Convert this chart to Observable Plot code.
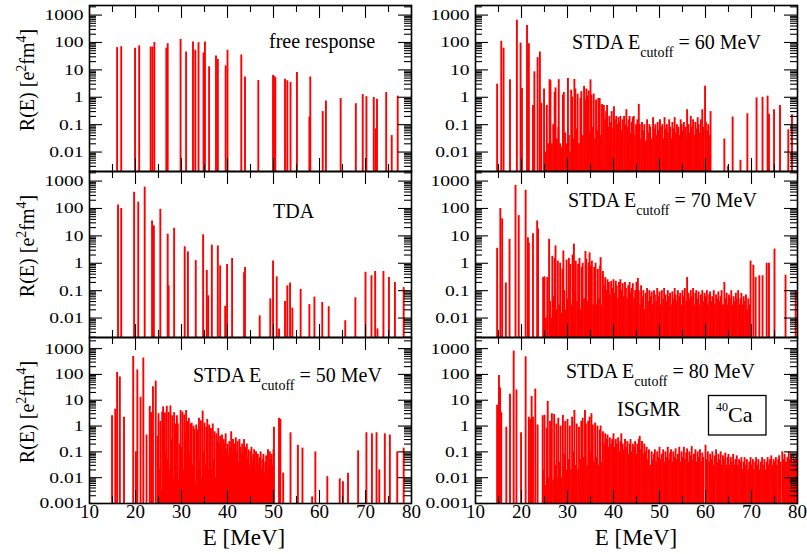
<!DOCTYPE html>
<html>
<head>
<meta charset="utf-8">
<script src="https://cdn.jsdelivr.net/npm/d3@7"></script>
<script src="https://cdn.jsdelivr.net/npm/@observablehq/plot@0.6"></script>
<style>
  body { margin: 0; background: #fff; }
  #chart { position: relative; width: 807px; height: 554px; overflow: hidden; font-family: "Liberation Serif", "Times New Roman", serif; }
  #chart svg { position: absolute; overflow: visible; }
</style>
</head>
<body>
<div id="chart"></div>
<script>
// ---------- tick values ----------
const yTickVals = [0.001, 0.01, 0.1, 1, 10, 100, 1000];
const xTickVals = [10, 20, 30, 40, 50, 60, 70, 80];
const xMinorVals = [15, 25, 35, 45, 55, 65, 75];

// ---------- data: [E (MeV), R(E) (e^2 fm^4)] ----------
const freeResponse = [[16.0,65],[16.9,70],[19.9,62],[20.8,75],[23.3,68],[23.7,68],[24.1,100],[26.7,62],[27.0,90],[29.8,130],[31.0,45],[32.5,105],[33.0,52],[33.7,98],[34.8,42],[35.1,105],[36.0,13],[37.5,32],[37.9,24],[39.6,14],[40.0,52],[43.0,35],[43.8,5.5],[46.7,4.1],[49.9,6.2],[50.1,5.8],[50.4,5.2],[52.5,4.5],[53.0,4.0],[53.7,3.5],[55.1,8.0],[57.8,0.19],[58.0,5.5],[60.7,0.3],[61.4,0.73],[64.6,0.9],[67.9,0.58],[69.4,1.25],[70.2,1.05],[71.8,0.98],[72.2,0.07],[72.5,0.85],[74.5,1.5],[75.7,0.04],[77.0,1.1]];

const tda = [[16.2,135],[16.9,100],[19.7,390],[20.6,170],[22.0,600],[23.6,35],[24.0,23],[25.4,93],[27.0,11.5],[27.2,0.15],[28.4,19],[30.7,4.0],[31.4,2.6],[33.1,1.25],[34.7,11],[35.5,0.55],[35.8,0.065],[36.6,4.6],[37.9,4.3],[38.4,0.8],[39.5,0.027],[39.9,0.9],[41.0,1.5],[43.6,0.45],[43.8,0.7],[47.0,0.012],[49.3,0.05],[49.9,1.2],[50.7,0.32],[51.2,0.004],[52.5,0.04],[53.0,0.15],[53.6,0.19],[54.1,0.023],[55.9,0.11],[57.8,0.031],[58.9,0.058],[60.6,0.037],[62.0,0.026],[65.6,0.008],[67.8,0.055],[70.0,0.47],[71.3,0.35],[72.1,0.5],[72.6,0.004],[73.9,0.5],[75.1,0.3],[76.4,0.2],[78.3,0.13]];

const stda50Low = [[14.9,2.5],[15.6,4.5],[16.0,120],[16.6,80],[17.5,2.2],[19.5,500],[20.1,0.1],[20.4,150],[21.1,13],[21.7,430],[22.4,0.45],[23.1,5.8],[23.4,3.3],[23.8,33],[24.4,55]];
const stda50Dense = [[24.8,0.4],[25.0,3.0],[25.2,0.02],[25.4,1.5],[25.6,0.003],[25.8,3.5],[26.0,5.5],[26.2,0.03],[26.4,3.2],[26.6,0.1],[26.8,5.8],[27.0,0.05],[27.2,3.4],[27.4,0.02],[27.6,6.0],[27.8,0.3],[28.0,2.5],[28.2,0.01],[28.4,3.3],[28.6,1.2],[28.8,0.04],[29.0,2.5],[29.2,1.2],[29.4,0.008],[29.6,0.2],[29.8,4.0],[30.0,0.15],[30.2,3.5],[30.4,0.02],[30.6,2.7],[30.8,0.5],[31.0,4.0],[31.2,0.01],[31.4,1.5],[31.6,2.0],[31.8,0.08],[32.0,1.2],[32.2,1.3],[32.4,0.03],[32.6,1.0],[32.8,0.75],[33.0,0.006],[33.2,1.1],[33.4,0.7],[33.6,0.02],[33.8,2.0],[34.0,0.05],[34.2,1.6],[34.4,0.01],[34.6,3.8],[34.8,0.1],[35.0,1.3],[35.2,0.03],[35.4,0.9],[35.6,1.8],[35.8,0.02],[36.0,1.1],[36.2,0.06],[36.4,0.8],[36.6,0.02],[36.8,1.2],[37.0,0.05],[37.2,0.6],[37.4,0.01],[37.6,0.5],[37.8,0.25],[38.0,0.8],[38.2,0.2],[38.4,0.4],[38.6,0.15],[38.8,0.45],[39.0,0.06],[39.2,0.3],[39.4,0.2],[39.6,0.5],[39.8,0.12],[40.0,0.2],[40.2,0.08],[40.4,0.25],[40.6,0.15],[40.8,0.6],[41.0,0.1],[41.2,0.3],[41.4,0.05],[41.6,0.2],[41.8,0.35],[42.0,0.1],[42.2,0.25],[42.4,0.04],[42.6,0.3],[42.8,0.15],[43.0,0.08],[43.2,0.2],[43.4,0.1],[43.6,0.3],[43.8,0.05],[44.0,0.15],[44.2,0.2],[44.4,0.06],[44.6,0.12],[44.8,0.03],[45.0,0.1],[45.2,0.15],[45.4,0.04],[45.6,0.08],[45.8,0.12],[46.0,0.02],[46.2,0.1],[46.4,0.05],[46.6,0.08],[46.8,0.03],[47.0,0.06],[47.2,0.1],[47.4,0.02],[47.6,0.05],[47.8,0.08],[48.0,0.015],[48.2,0.04],[48.4,0.07],[48.6,0.02],[48.8,0.12],[49.0,0.03],[49.2,0.1],[49.4,0.05],[49.6,0.08],[49.8,0.03],[50.0,0.12]];
const stda50High = [[50.1,0.9],[51.2,2.0],[51.5,1.8],[52.1,0.015],[53.7,0.55],[55.3,0.18],[56.3,0.14],[58.4,0.0018],[59.1,0.1],[61.7,0.011],[64.4,0.009],[65.1,0.007],[66.2,0.015],[68.4,0.11],[70.2,0.55],[71.4,0.5],[72.4,0.55],[73.0,0.02],[74.2,0.5],[75.3,0.45],[76.9,0.1],[78.3,0.14]];

const stda60Low = [[14.7,3.0],[15.6,110],[16.1,62],[17.5,4.4],[19.0,650],[19.8,95],[20.1,2.1],[21.2,420],[21.6,90],[22.5,0.5],[22.8,8.5],[23.5,28],[24.0,45],[24.3,0.6]];
const stda60Dense = [[24.9,2.0],[25.2,0.01],[25.5,0.5],[25.8,0.02],[26.1,4.4],[26.3,4.0],[26.6,0.02],[26.9,0.1],[27.2,1.5],[27.4,2.2],[27.7,0.03],[28.0,0.08],[28.1,4.4],[28.4,0.02],[28.7,0.015],[29.0,1.2],[29.2,1.5],[29.5,0.05],[29.8,0.02],[30.1,4.8],[30.3,0.04],[30.6,0.01],[30.8,1.8],[31.0,1.0],[31.3,0.03],[31.5,4.5],[31.7,2.0],[32.0,0.07],[32.2,1.3],[32.5,0.02],[32.8,0.9],[33.0,1.6],[33.3,0.04],[33.6,2.5],[33.8,0.8],[34.1,2.0],[34.3,1.1],[34.6,1.7],[34.8,0.05],[35.0,4.3],[35.2,1.2],[35.5,0.08],[35.7,1.3],[36.0,0.03],[36.2,0.8],[36.5,0.06],[36.7,0.9],[37.0,0.9],[37.2,0.04],[37.5,0.55],[37.7,0.03],[37.9,0.5],[38.2,0.15],[38.4,0.3],[38.6,0.5],[38.9,0.08],[39.1,0.2],[39.4,0.12],[39.6,0.3],[39.9,0.07],[40.1,0.45],[40.3,0.15],[40.6,0.2],[40.8,0.1],[41.1,0.18],[41.3,0.12],[41.5,0.2],[41.8,0.06],[42.0,0.15],[42.3,0.2],[42.5,0.1],[42.8,0.35],[43.0,0.08],[43.3,0.15],[43.5,0.2],[43.8,0.05],[44.0,0.12],[44.2,0.18],[44.4,0.2],[44.7,0.04],[44.9,0.1],[45.2,0.15],[45.5,0.55],[45.7,0.1],[46.0,0.03],[46.2,0.12],[46.5,0.06],[46.7,0.1],[47.0,0.025],[47.3,0.15],[47.5,0.05],[47.8,0.1],[48.0,0.08],[48.3,0.03],[48.6,0.18],[48.8,0.07],[49.1,0.1],[49.3,0.04],[49.6,0.12],[49.8,0.06],[50.1,0.15],[50.3,0.08],[50.6,0.1],[50.8,0.03],[51.1,0.18],[51.3,0.07],[51.6,0.1],[51.8,0.05],[52.1,0.15],[52.3,0.08],[52.6,0.03],[52.8,0.12],[53.1,0.07],[53.3,0.18],[53.6,0.05],[53.8,0.1],[54.1,0.08],[54.3,0.04],[54.6,0.15],[54.8,0.1],[55.1,0.06],[55.3,0.12],[55.6,0.08],[55.8,0.03],[56.0,0.35],[56.3,0.1],[56.5,0.05],[56.8,0.2],[57.0,0.08],[57.3,0.15],[57.5,0.04],[57.8,0.12],[58.0,0.07],[58.3,0.18],[58.5,0.1],[58.8,0.05],[59.0,0.15],[59.3,0.35],[59.5,0.08],[59.9,2.5],[60.1,0.12],[60.4,0.06],[60.6,0.1],[60.9,0.04],[61.1,0.3]];
const stda60High = [[64.1,0.03],[64.9,0.003],[65.9,0.19],[67.6,0.005],[69.1,0.25],[71.1,0.95],[72.4,1.0],[73.5,1.1],[73.8,0.24],[74.9,0.35],[76.2,0.5],[78.0,0.065],[78.8,0.23]];

const stda70Low = [[14.7,3.5],[15.4,100],[15.8,42],[16.6,0.19],[17.4,7.5],[18.7,700],[19.4,55],[20.9,460],[21.4,8.5],[21.6,5.5],[22.5,12],[23.4,35],[23.6,18],[24.7,0.3]];
const stda70Dense = [[25.0,0.32],[25.3,0.01],[25.6,0.3],[26.0,7.5],[26.2,0.04],[26.5,0.01],[26.7,1.8],[27.0,0.06],[27.2,1.5],[27.4,4.3],[27.7,0.02],[27.9,1.2],[28.2,0.03],[28.4,1.0],[28.6,0.015],[28.9,0.6],[29.1,2.8],[29.3,0.1],[29.6,0.02],[29.8,1.3],[30.1,0.05],[30.3,1.5],[30.6,0.9],[30.8,0.03],[31.1,2.0],[31.4,5.0],[31.6,0.1],[31.8,1.2],[32.1,0.04],[32.3,0.9],[32.6,1.5],[32.8,0.02],[33.1,0.7],[33.3,1.0],[33.6,0.05],[33.9,2.7],[34.1,1.4],[34.3,0.04],[34.6,1.0],[34.8,2.4],[35.1,0.8],[35.3,1.2],[35.6,0.03],[35.8,0.7],[36.1,1.0],[36.3,0.03],[36.6,0.6],[36.8,0.05],[37.1,0.8],[37.2,1.6],[37.5,0.03],[37.7,0.5],[38.0,0.15],[38.2,0.3],[38.5,0.1],[38.7,0.25],[39.0,0.2],[39.2,0.07],[39.5,0.22],[39.7,0.12],[40.0,0.25],[40.2,0.08],[40.5,0.22],[40.7,0.15],[41.0,0.05],[41.2,0.2],[41.5,0.25],[41.7,0.1],[42.0,0.18],[42.2,0.06],[42.5,0.2],[42.7,0.12],[43.0,0.05],[43.2,0.15],[43.5,0.2],[43.7,0.08],[44.0,0.12],[44.2,0.18],[44.5,0.05],[44.7,0.1],[45.0,0.2],[45.3,0.28],[45.5,0.1],[45.8,0.03],[46.0,0.15],[46.3,0.06],[46.5,0.1],[46.8,0.02],[47.0,0.08],[47.3,0.12],[47.5,0.04],[47.8,0.1],[48.0,0.06],[48.3,0.09],[48.5,0.03],[48.8,0.1],[49.0,0.07],[49.3,0.04],[49.5,0.12],[49.8,0.06],[50.0,0.09],[50.3,0.03],[50.5,0.1],[50.8,0.05],[51.0,0.12],[51.3,0.07],[51.5,0.04],[51.8,0.1],[52.0,0.06],[52.3,0.08],[52.5,0.03],[52.8,0.09],[53.0,0.05],[53.3,0.12],[53.5,0.07],[53.8,0.04],[54.0,0.1],[54.3,0.06],[54.5,0.08],[54.8,0.03],[55.0,0.1],[55.3,0.06],[55.5,0.12],[55.8,0.04],[56.0,0.3],[56.3,0.08],[56.5,0.05],[56.8,0.1],[57.0,0.06],[57.3,0.12],[57.5,0.03],[57.8,0.08],[58.0,0.1],[58.3,0.05],[58.5,0.09],[58.8,0.03],[59.0,0.07],[59.3,0.1],[59.5,0.04],[59.8,0.08],[60.0,0.06],[60.3,0.1],[60.5,0.03],[60.8,0.07],[61.0,0.09],[61.3,0.04],[61.5,0.06],[61.8,0.1],[62.0,0.03],[62.3,0.07],[62.5,0.05],[62.8,0.09],[63.0,0.04],[63.3,0.06],[63.5,0.1],[63.8,0.03],[64.1,0.2],[64.3,0.05],[64.6,0.08],[64.8,0.03],[65.1,0.07],[65.3,0.05],[65.6,0.1],[65.8,0.03],[66.1,0.06],[66.3,0.04],[66.6,0.08],[66.8,0.05],[67.1,0.1],[67.3,0.03],[67.6,0.05],[67.8,0.08],[68.1,0.03],[68.3,0.06],[68.6,0.04],[68.8,0.07],[69.1,0.02],[69.3,0.05],[69.5,0.03]];
const stda70High = [[69.8,1.2],[70.4,0.85],[70.9,0.3],[71.7,0.35],[72.4,0.35],[73.3,1.0],[73.8,1.0],[75.0,3.3],[77.4,0.37],[79.6,0.09]];

const stda80Low = [[14.7,6.4],[15.1,90],[15.35,30],[15.6,3.3],[16.7,0.9],[17.5,17],[18.3,800],[18.9,25],[19.9,0.55],[20.9,480],[21.6,2.2],[21.9,1.8],[22.2,14],[22.5,2.2],[23.0,27],[23.5,1.1]];
const stda80Dense = [[24.6,2.5],[24.9,0.02],[25.0,2.6],[25.3,0.005],[25.5,0.8],[25.7,9.0],[25.9,0.01],[26.2,1.5],[26.4,0.05],[26.6,3.0],[26.9,0.008],[27.1,2.8],[27.3,0.03],[27.6,1.2],[27.8,0.01],[28.0,2.0],[28.3,0.04],[28.5,1.0],[28.8,0.01],[29.0,2.6],[29.3,0.08],[29.5,1.5],[29.8,0.02],[30.0,1.8],[30.3,0.05],[30.5,1.0],[30.8,0.02],[31.0,2.2],[31.3,0.1],[31.5,4.0],[31.8,0.03],[32.0,1.2],[32.3,0.02],[32.5,0.9],[32.8,0.05],[33.0,1.5],[33.3,2.0],[33.5,0.06],[33.8,4.0],[34.0,1.2],[34.3,0.03],[34.5,1.5],[34.8,2.2],[35.0,0.1],[35.2,3.0],[35.5,1.1],[35.7,0.04],[36.0,1.3],[36.2,0.06],[36.5,1.0],[36.7,0.03],[37.0,0.7],[37.2,1.0],[37.5,0.04],[37.7,0.6],[38.0,0.2],[38.2,0.5],[38.5,0.3],[38.7,0.45],[39.0,0.15],[39.2,0.35],[39.5,0.2],[39.7,0.3],[40.0,0.5],[40.2,0.15],[40.5,0.3],[40.7,0.2],[41.0,0.35],[41.2,0.1],[41.5,0.25],[41.7,0.5],[42.0,0.2],[42.2,0.12],[42.5,0.3],[42.7,0.15],[43.0,0.25],[43.2,0.08],[43.5,0.2],[43.7,0.3],[44.0,0.1],[44.2,0.2],[44.5,0.15],[44.7,0.25],[45.0,0.08],[45.2,0.2],[45.5,0.3],[45.7,0.4],[46.0,0.12],[46.2,0.25],[46.5,0.08],[46.7,0.2],[47.0,0.1],[47.2,0.15],[47.5,0.05],[47.7,0.12],[48.0,0.03],[48.3,0.1],[48.5,0.05],[48.8,0.08],[49.0,0.12],[49.3,0.04],[49.5,0.1],[49.8,0.06],[50.0,0.15],[50.3,0.05],[50.5,0.08],[50.8,0.12],[51.0,0.04],[51.3,0.1],[51.5,0.06],[51.8,0.15],[52.0,0.05],[52.3,0.09],[52.5,0.12],[52.8,0.04],[53.0,0.1],[53.3,0.06],[53.5,0.13],[53.8,0.05],[54.0,0.08],[54.3,0.15],[54.5,0.04],[54.8,0.1],[55.0,0.06],[55.3,0.15],[55.5,0.05],[55.8,0.09],[56.0,0.13],[56.3,0.04],[56.5,0.1],[56.8,0.07],[57.0,0.16],[57.3,0.05],[57.5,0.08],[57.8,0.12],[58.0,0.04],[58.3,0.1],[58.5,0.06],[58.8,0.12],[59.0,0.04],[59.3,0.09],[59.5,0.06],[60.0,0.18],[60.3,0.05],[60.5,0.1],[60.8,0.04],[61.0,0.08],[61.3,0.05],[61.5,0.1],[61.8,0.03],[62.0,0.07],[62.3,0.12],[62.5,0.04],[62.8,0.08],[63.0,0.05],[63.3,0.1],[63.5,0.03],[63.8,0.07],[64.0,0.05],[64.3,0.09],[64.5,0.03],[64.8,0.06],[65.0,0.08],[65.3,0.03],[65.5,0.06],[65.8,0.04],[66.0,0.08],[66.3,0.03],[66.5,0.05],[66.8,0.07],[67.0,0.03],[67.3,0.05],[67.5,0.04],[67.8,0.06],[68.0,0.02],[68.3,0.04],[68.5,0.06],[68.8,0.03],[69.0,0.05],[69.3,0.02],[69.5,0.04],[69.8,0.06],[70.0,0.03],[70.3,0.05],[70.5,0.02],[70.8,0.04],[71.0,0.06],[71.3,0.03],[71.5,0.05],[71.8,0.02],[72.0,0.04],[72.3,0.06],[72.5,0.03],[72.8,0.05],[73.0,0.02],[73.3,0.04],[73.5,0.06],[73.8,0.03],[74.0,0.05],[74.3,0.07],[74.5,0.03],[74.8,0.05],[75.0,0.04],[75.3,0.06],[75.5,0.03],[75.8,0.05],[76.0,0.07],[76.3,0.04],[76.7,0.1],[77.0,0.05],[77.2,0.08],[77.5,0.04],[77.8,0.06],[78.1,0.1],[78.3,0.05],[78.6,0.07],[78.8,0.04],[79.1,0.08],[79.3,0.05],[79.6,0.06],[79.9,0.07]];

// ---------- panel texts ----------
const yLabelMain = ["R(E) [e", "fm", "]"];
const yLabelSups = ["2", "4"];
const xLabelText = "E [MeV]";
const cutoffs = ["50", "60", "70", "80"];

// ---------- layout ----------
const W = 322, H = 166;
const colLeft = [89, 475];
const rowTop = [5, 171, 337];
const chart = document.getElementById("chart");

const fmt = d => String(d);
const isPow10 = v => Math.abs(Math.log10(v) - Math.round(Math.log10(v))) < 1e-9;

function panel(data, col, row) {
  const ml = col === 0 ? 89 : 60, mr = 12, mt = 12, mb = row === 2 ? 51 : 12;
  const yDom = row === 2 ? [1e-3, Math.pow(10, 3.43)] : [Math.pow(10, -2.71), Math.pow(10, 3.35)];
  const all = d3.scaleLog().domain(yDom).ticks();
  const yMajor = yTickVals.filter(v => v >= yDom[0] * 0.999 && v <= yDom[1]);
  const yMinor = all.filter(v => !isPow10(v));
  const tk = {stroke: "black", strokeWidth: 1.1};
  const marks = [
    Plot.ruleX(data, {x: d => d[0], y1: () => yDom[0], y2: d => d[1], stroke: "#ff0000", strokeWidth: 1.9, clip: true}),
    Plot.tickY(yMajor, {...tk, insetRight: W - 13}),
    Plot.tickY(yMajor, {...tk, insetLeft: W - 13}),
    Plot.tickY(yMinor, {...tk, insetRight: W - 7}),
    Plot.tickY(yMinor, {...tk, insetLeft: W - 7}),
    Plot.tickX(xTickVals, {...tk, insetTop: H - 13}),
    Plot.tickX(xTickVals, {...tk, insetBottom: H - 13}),
    Plot.tickX(xMinorVals, {...tk, insetTop: H - 7}),
    Plot.tickX(xMinorVals, {...tk, insetBottom: H - 7}),
    Plot.frame({stroke: "black", strokeWidth: 1.6}),
    Plot.axisY({ticks: yMajor, tickSize: 0, tickPadding: 6, tickFormat: fmt, fontSize: 15.5})
  ];
  if (row === 2) marks.push(Plot.axisX({ticks: xTickVals, tickSize: 0, tickPadding: 1, fontSize: 19, tickFormat: fmt}));
  const svg = Plot.plot({
    width: ml + W + mr, height: mt + H + mb,
    marginLeft: ml, marginRight: mr, marginTop: mt, marginBottom: mb,
    style: {fontFamily: '"Liberation Serif", "Times New Roman", serif', fontSize: "16px", background: "transparent", overflow: "visible"},
    x: {domain: [10, 80], axis: null},
    y: {type: "log", domain: yDom, axis: null},
    marks
  });
  svg.style.left = (colLeft[col] - ml) + "px";
  svg.style.top = (rowTop[row] - mt) + "px";
  chart.appendChild(svg);
  svg.querySelectorAll('g[aria-label="y-axis tick label"] text').forEach(t => {
    const len = t.getComputedTextLength();
    t.setAttribute("textLength", (len * 1.26).toFixed(1));
    t.setAttribute("lengthAdjust", "spacingAndGlyphs");
  });
}

panel(freeResponse, 0, 0);
panel(tda, 0, 1);
panel([...stda50Low, ...stda50Dense, ...stda50High], 0, 2);
panel([...stda60Low, ...stda60Dense, ...stda60High], 1, 0);
panel([...stda70Low, ...stda70Dense, ...stda70High], 1, 1);
panel([...stda80Low, ...stda80Dense], 1, 2);

// ---------- text overlay ----------
const ov = d3.select(chart).append("svg")
  .attr("width", 807).attr("height", 554)
  .style("left", "0px").style("top", "0px")
  .attr("font-family", '"Liberation Serif", "Times New Roman", serif');

// y-axis titles
[80, 246, 412].forEach(cy => {
  const t = ov.append("text").attr("transform", `translate(34,${cy}) rotate(-90)`)
    .attr("text-anchor", "middle").attr("font-size", 20);
  t.append("tspan").text(yLabelMain[0]);
  t.append("tspan").attr("dy", -8).attr("font-size", 14).text(yLabelSups[0]);
  t.append("tspan").attr("dy", 8).text(yLabelMain[1]);
  t.append("tspan").attr("dy", -8).attr("font-size", 14).text(yLabelSups[1]);
  t.append("tspan").attr("dy", 8).text(yLabelMain[2]);
});

// x-axis titles
[244, 636].forEach(cx => {
  ov.append("text").attr("x", cx).attr("y", 545).attr("text-anchor", "middle")
    .attr("font-size", 23).text(xLabelText);
});

// panel labels
ov.append("text").attr("x", 269).attr("y", 48).attr("font-size", 20).text("free response");
ov.append("text").attr("x", 273).attr("y", 218).attr("font-size", 20).text("TDA");
[[193, 382, 0], [572, 49, 1], [568, 207, 2], [566, 378, 3]].forEach(([x, y, i]) => {
  const t = ov.append("text").attr("x", x).attr("y", y).attr("font-size", 20);
  t.append("tspan").text("STDA E");
  t.append("tspan").attr("dy", 8).attr("font-size", 14).text("cutoff");
  t.append("tspan").attr("dy", -8).text(` = ${cutoffs[i]} MeV`);
});
ov.append("text").attr("x", 617).attr("y", 416).attr("font-size", 20).text("ISGMR");
ov.append("rect").attr("x", 708.5).attr("y", 395.5).attr("width", 57.5).attr("height", 39.5)
  .attr("fill", "white").attr("stroke", "black").attr("stroke-width", 1.3);
const ca = ov.append("text").attr("x", 716).attr("y", 422);
ca.append("tspan").attr("font-size", 12).attr("dy", -11).text("40");
ca.append("tspan").attr("font-size", 22).attr("dy", 11).text("Ca");
</script>
</body>
</html>
